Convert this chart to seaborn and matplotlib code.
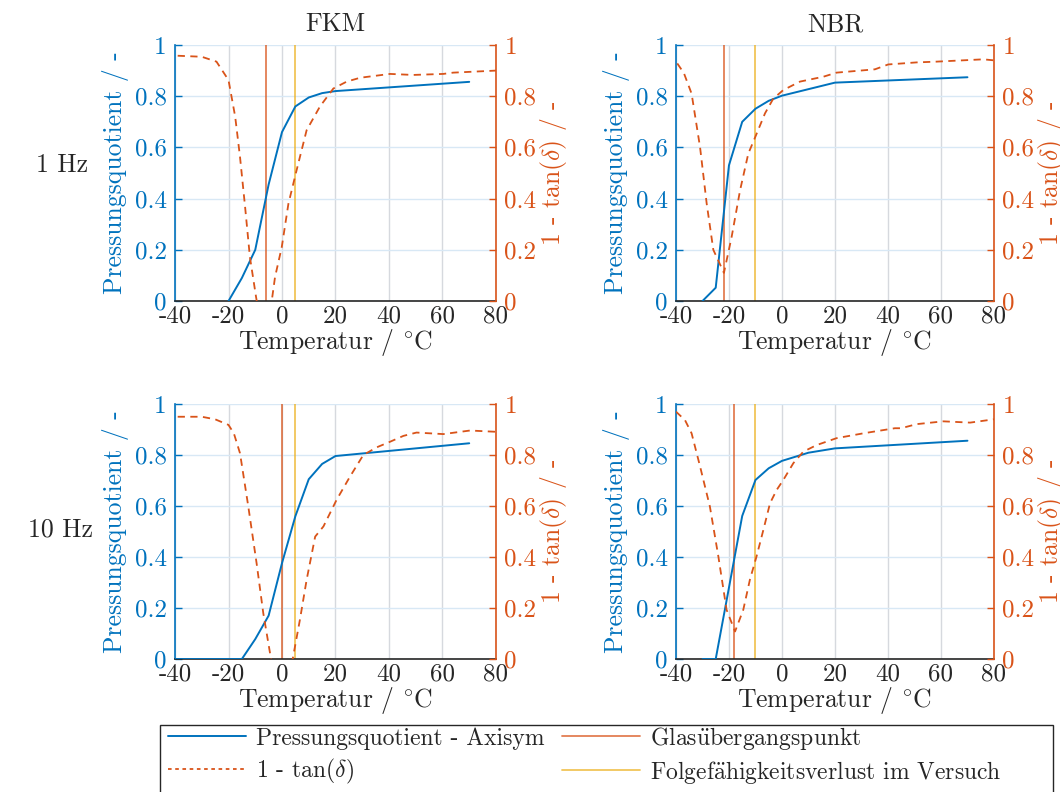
import matplotlib
matplotlib.use("Agg")
import matplotlib.pyplot as plt
from matplotlib.patches import Rectangle
import pandas as pd
import seaborn as sns
from matplotlib.lines import Line2D

sns.set_theme(style="white")
plt.rcParams["font.family"] = ["cmr10", "DejaVu Serif"]
plt.rcParams["mathtext.fontset"] = "cm"
plt.rcParams["axes.unicode_minus"] = False

BLUE = "#0072BD"
ORANGE = "#D95319"
YELLOW = "#EDB120"
DARK = "#262626"

# ---- FKM, 1 Hz ----
fkm1_t_pq = [-20, -15, -10, -5, 0, 5, 10, 15, 20, 70]
fkm1_pq = [0.0, 0.09, 0.20, 0.455, 0.66, 0.76, 0.795, 0.812, 0.82, 0.856]
fkm1_t_tan = [-39, -30, -24.5, -20, -17.5, -15.7, -13.8, -12, -9.7, -7, -4.5, -2.6,
              -0.1, 2.4, 5.2, 9.2, 14.2, 19.2, 24.2, 29.2, 40.4, 49, 60.3, 64, 80]
fkm1_tan = [0.958, 0.954, 0.935, 0.863, 0.72, 0.563, 0.368, 0.172, 0.016, -0.15, -0.05, 0.094,
            0.21, 0.38, 0.50, 0.667, 0.76, 0.83, 0.857, 0.872, 0.887, 0.883, 0.887, 0.892, 0.90]
fkm1_tg = -6
fkm1_loss = 5

# ---- NBR, 1 Hz ----
nbr1_t_pq = [-30, -25, -20, -15, -10, -5, 0, 20, 70]
nbr1_pq = [0.0, 0.052, 0.53, 0.70, 0.751, 0.782, 0.802, 0.853, 0.874]
nbr1_t_tan = [-39.5, -37, -34.1, -30.9, -28.4, -25.9, -21.9, -19, -15.8, -12.7, -10.1, -6.4,
              -3.3, 0.5, 6.8, 15.6, 20.6, 35.1, 40.1, 50.8, 58.4, 76, 80]
nbr1_tan = [0.928, 0.89, 0.81, 0.60, 0.38, 0.20, 0.11, 0.25, 0.433, 0.576, 0.64, 0.733,
            0.79, 0.824, 0.857, 0.876, 0.892, 0.905, 0.924, 0.932, 0.935, 0.944, 0.94]
nbr1_tg = -22
nbr1_loss = -10

# ---- FKM, 10 Hz ----
fkm10_t_pq = [-40, -15, -10, -5, 0, 5, 10, 15, 20, 70]
fkm10_pq = [0.0, 0.0, 0.078, 0.17, 0.376, 0.56, 0.705, 0.765, 0.796, 0.846]
fkm10_t_tan = [-39, -30, -25, -20, -18, -15.7, -12.6, -9.5, -7, -4.1, -1, 2, 4, 6.7, 9.2,
               12.4, 15.5, 20.4, 25.4, 30.4, 35.4, 40.4, 45.4, 50.3, 60.3, 70.3, 80]
fkm10_tan = [0.95, 0.95, 0.94, 0.918, 0.885, 0.807, 0.598, 0.376, 0.18, 0.0, -0.15, -0.1, 0.0,
             0.154, 0.31, 0.48, 0.52, 0.624, 0.715, 0.80, 0.83, 0.852, 0.875, 0.888, 0.882,
             0.896, 0.891]
fkm10_tg = 0
fkm10_loss = 5

# ---- NBR, 10 Hz ----
nbr10_t_pq = [-30, -25, -20, -15, -10, -5, 0, 10, 20, 70]
nbr10_pq = [0.0, 0.0, 0.28, 0.561, 0.702, 0.748, 0.777, 0.809, 0.826, 0.856]
nbr10_t_tan = [-40, -36.6, -34.1, -30.9, -27.2, -24, -20.9, -17.7, -14.6, -12.1, -9.6, -7,
               -4.5, -2, 0.5, 4.3, 8.05, 13.1, 20.6, 30.7, 42.6, 45, 50.8, 60.9, 71, 80]
nbr10_tan = [0.97, 0.937, 0.885, 0.755, 0.598, 0.402, 0.193, 0.108, 0.193, 0.311, 0.402,
             0.507, 0.611, 0.663, 0.702, 0.768, 0.813, 0.839, 0.866, 0.885, 0.905, 0.905,
             0.921, 0.932, 0.927, 0.94]
nbr10_tg = -18
nbr10_loss = -10

x_ticks = [-40, -20, 0, 20, 40, 60, 80]
x_tick_labels = ["-40", "-20", "0", "20", "40", "60", "80"]
y_ticks = [0, 0.2, 0.4, 0.6, 0.8, 1]
y_tick_labels = ["0", "0.2", "0.4", "0.6", "0.8", "1"]

panels = [
    ("FKM", fkm1_t_pq, fkm1_pq, fkm1_t_tan, fkm1_tan, fkm1_tg, fkm1_loss),
    ("NBR", nbr1_t_pq, nbr1_pq, nbr1_t_tan, nbr1_tan, nbr1_tg, nbr1_loss),
    (None, fkm10_t_pq, fkm10_pq, fkm10_t_tan, fkm10_tan, fkm10_tg, fkm10_loss),
    (None, nbr10_t_pq, nbr10_pq, nbr10_t_tan, nbr10_tan, nbr10_tg, nbr10_loss),
]

positions = [
    [0.1651, 0.6199, 0.3028, 0.3233],
    [0.6377, 0.6199, 0.3000, 0.3233],
    [0.1651, 0.1679, 0.3028, 0.3220],
    [0.6377, 0.1679, 0.3000, 0.3220],
]

fig = plt.figure(figsize=(10.6, 7.92), dpi=100)

FS_TICK = 18
FS_LAB = 18.5

for (title, t_pq, pq, t_tan, tan, tg, loss), pos in zip(panels, positions):
    ax = fig.add_axes(pos)
    ax2 = ax.twinx()

    df_pq = pd.DataFrame({"T": t_pq, "v": pq})
    df_tan = pd.DataFrame({"T": t_tan, "v": tan})

    ax.axvline(tg, color=ORANGE, lw=1.3, alpha=0.75, zorder=2)
    ax.axvline(loss, color=YELLOW, lw=1.3, alpha=0.75, zorder=2)
    sns.lineplot(data=df_pq, x="T", y="v", ax=ax, color=BLUE, lw=1.4,
                 estimator=None, sort=False, zorder=3)
    sns.lineplot(data=df_tan, x="T", y="v", ax=ax2, color=ORANGE, lw=1.3,
                 estimator=None, sort=False, linestyle=(0, (4, 3)))

    for a in (ax, ax2):
        a.set_xlim(-40, 80)
        a.set_ylim(0, 1)
        a.set_xlabel("")
        a.set_ylabel("")

    ax.set_xticks(x_ticks)
    ax.set_xticklabels(x_tick_labels, fontsize=FS_TICK, color=DARK)
    ax.set_yticks(y_ticks)
    ax.set_yticklabels(y_tick_labels, fontsize=FS_TICK, color=BLUE)
    ax2.set_yticks(y_ticks)
    ax2.set_yticklabels(y_tick_labels, fontsize=FS_TICK, color=ORANGE)

    # grid: grey verticals, light-blue horizontals
    ax.set_axisbelow(True)
    ax.grid(axis="x", color="#d6d9de", lw=1.0)
    ax.grid(axis="y", color="#d8e8f5", lw=1.0)

    ax.tick_params(axis="y", direction="in", length=5, width=1, color=BLUE, pad=6)
    ax.tick_params(axis="x", direction="in", length=0, pad=3)
    ax2.tick_params(axis="y", direction="in", length=5, width=1, color=ORANGE, pad=6)

    for s in ("top", "right"):
        ax.spines[s].set_visible(False)
    for s in ("top", "left", "bottom"):
        ax2.spines[s].set_visible(False)
    ax.spines["left"].set_color(BLUE)
    ax.spines["left"].set_linewidth(1.2)
    ax.spines["bottom"].set_color(DARK)
    ax.spines["bottom"].set_linewidth(1.2)
    ax2.spines["right"].set_color(ORANGE)
    ax2.spines["right"].set_linewidth(1.2)

    ax.set_xlabel(r"Temperatur / $^{\circ}$C", fontsize=FS_LAB, color=DARK, labelpad=0)
    ax.set_ylabel("Pressungsquotient / -", fontsize=FS_LAB, color=BLUE, labelpad=4)
    ax2.set_ylabel(r"1 - tan($\delta$) / -", fontsize=FS_LAB, color=ORANGE, labelpad=1)

    if title:
        ax.set_title(title, fontsize=FS_LAB, color=DARK, pad=10)

fig.text(0.0585, 0.792, "1 Hz", fontsize=FS_LAB, ha="center", va="center", color=DARK)
fig.text(0.0575, 0.331, "10 Hz", fontsize=FS_LAB, ha="center", va="center", color=DARK)

# legend box
fig.add_artist(Rectangle((0.151, -0.01), 0.8425, 0.0945, transform=fig.transFigure,
                         fill=False, edgecolor=DARK, lw=1.0))

handles = [
    Line2D([], [], color=BLUE, lw=1.4),
    Line2D([], [], color=ORANGE, lw=1.3, linestyle=(0, (2, 2))),
    Line2D([], [], color=ORANGE, lw=1.3, alpha=0.75),
    Line2D([], [], color=YELLOW, lw=1.3, alpha=0.75),
]
labels = [
    "Pressungsquotient - Axisym",
    r"1 - tan($\delta$)",
    r"Glas$\ddot{\mathrm{u}}$bergangspunkt",
    r"Folgef$\ddot{\mathrm{a}}$higkeitsverlust im Versuch",
]
leg = fig.legend(handles, labels, ncol=2, loc="upper left",
                 bbox_to_anchor=(0.156, 0.088),
                 fontsize=17, frameon=False,
                 handlelength=3.3, handletextpad=0.42, columnspacing=0.75,
                 labelspacing=0.3, borderpad=0.1, borderaxespad=0)
for t in leg.get_texts():
    t.set_color(DARK)

fig.savefig("out.png", dpi=100)
